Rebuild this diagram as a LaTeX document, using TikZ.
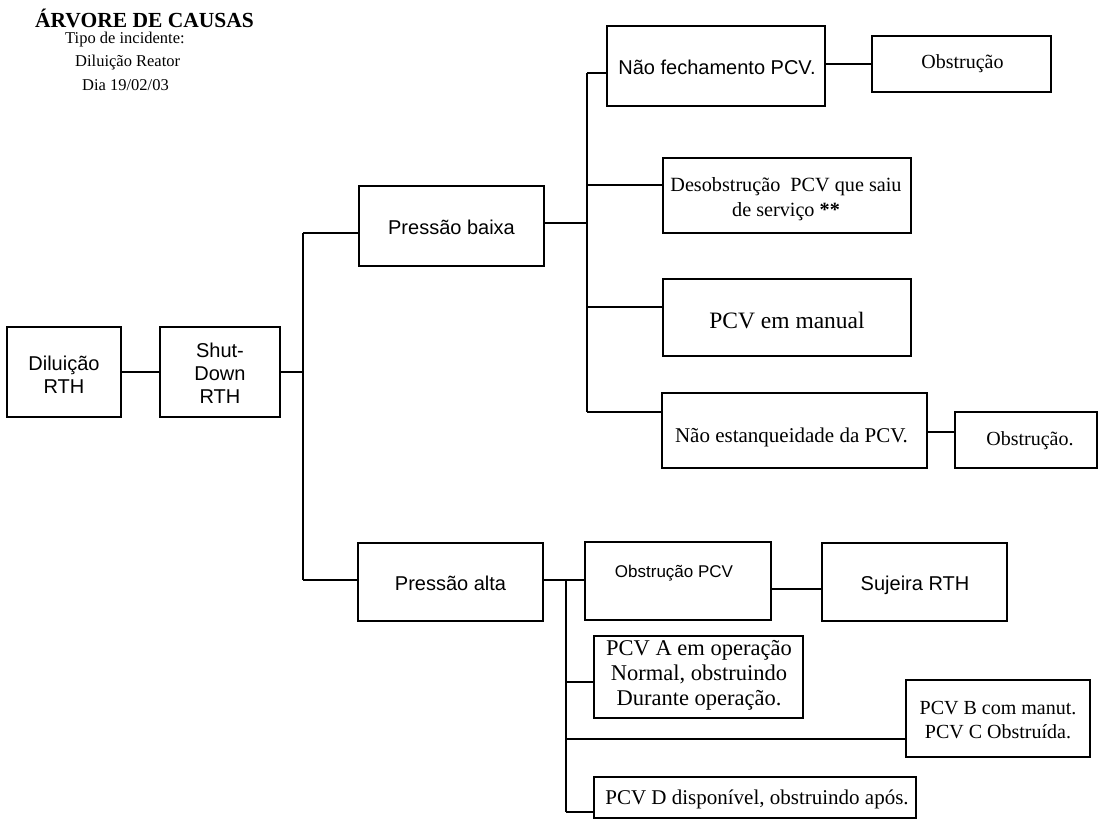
\documentclass[tikz,border=0pt]{standalone}
\usepackage{fontspec}
\setmainfont{Liberation Serif}
\newfontfamily\arialf{Liberation Sans}
\begin{document}
\begin{tikzpicture}[x=1pt,y=-1pt,
  box/.style={draw=black,line width=1.3pt,inner sep=0pt,outer sep=0pt,align=center},
  sansbox/.style={box,font=\arialf\fontsize{20}{23}\selectfont},
  serifbox/.style={box,font=\fontsize{20}{24}\selectfont},
  conn/.style={draw=black,line width=1.3pt},
  titletxt/.style={anchor=west,inner sep=0pt,font=\bfseries\fontsize{21.5}{24}\selectfont},
  subtxt/.style={anchor=west,inner sep=0pt,font=\fontsize{16.5}{19}\selectfont}]
\useasboundingbox[fill=white] (0,0) rectangle (1098,819);

% title
\node[titletxt] (title) at (35,18) {ÁRVORE DE CAUSAS};
\node[subtxt] (sub1) at (65,40) {Tipo de incidente:};
\node[subtxt] (sub2) at (75,63) {Diluição Reator};
\node[subtxt] (sub3) at (82,85) {Dia 19/02/03};

% boxes
\node[sansbox,minimum width=114,minimum height=90] (dil) at (64,372) {};
\node[font=\arialf\fontsize{20}{23}\selectfont,align=center,inner sep=0pt] (dilt) at (64,374.5) {Diluição\\RTH};
\node[sansbox,minimum width=120,minimum height=90] (shut) at (220,372) {};
\node[font=\arialf\fontsize{20}{23}\selectfont,align=center,inner sep=0pt] (shutt) at (220,373) {Shut-\\Down\\RTH};
\node[sansbox,minimum width=185,minimum height=80] (pb) at (451.5,226) {};
\node[font=\arialf\fontsize{20}{23}\selectfont,inner sep=0pt] (pbt) at (451.5,227) {Pressão baixa};
\node[sansbox,minimum width=185,minimum height=78] (pa) at (450.5,582) {};
\node[font=\arialf\fontsize{20}{23}\selectfont,inner sep=0pt] (pat) at (450.5,583) {Pressão alta};

\node[sansbox,minimum width=218,minimum height=80] (nf) at (716,66) {};
\node[font=\arialf\fontsize{20}{23}\selectfont,inner sep=0pt] (nft) at (717,67) {Não fechamento PCV.};
\node[serifbox,minimum width=179,minimum height=56] (ob1) at (961.5,64) {};
\node[font=\fontsize{20}{24}\selectfont,inner sep=0pt] (ob1t) at (962.5,64) {Obstrução};
\node[serifbox,minimum width=248,minimum height=75] (des) at (787,195.5) {};
\node[font=\fontsize{20.2}{25}\selectfont,align=center,inner sep=0pt] (dest) at (786,199) {Desobstrução\ \ PCV que saiu\\de serviço \textbf{**}};
\node[serifbox,minimum width=248,minimum height=77] (man) at (787,317.5) {};
\node[font=\fontsize{23.5}{26}\selectfont,inner sep=0pt] (mant) at (787,321) {PCV em manual};
\node[serifbox,minimum width=265,minimum height=75] (nes) at (794.5,430.5) {};
\node[font=\fontsize{21}{24}\selectfont,inner sep=0pt] (nest) at (791.5,437) {Não estanqueidade da PCV.};
\node[serifbox,minimum width=142,minimum height=56] (ob2) at (1026,440) {};
\node[font=\fontsize{20}{24}\selectfont,inner sep=0pt] (ob2t) at (1030,441) {Obstrução.};

\node[sansbox,minimum width=186,minimum height=78] (opcv) at (678,581) {};
\node[font=\arialf\fontsize{17}{20}\selectfont,inner sep=0pt] (opcvt) at (674,573) {Obstrução PCV};
\node[sansbox,minimum width=185,minimum height=78] (suj) at (914.5,582) {};
\node[font=\arialf\fontsize{20}{23}\selectfont,inner sep=0pt] (sujt) at (915,585) {Sujeira RTH};
\node[serifbox,minimum width=209,minimum height=82] (pA) at (698.5,677) {};
\node[font=\fontsize{22.5}{25}\selectfont,align=center,inner sep=0pt] (pAt) at (699,675) {PCV A em operação\\Normal, obstruindo\\Durante operação.};
\node[serifbox,minimum width=184,minimum height=77] (pB) at (998,718.5) {};
\node[font=\fontsize{20}{24}\selectfont,align=center,inner sep=0pt] (pBt) at (998,720) {PCV B com manut.\\PCV C Obstruída.};
\node[serifbox,minimum width=322,minimum height=41] (pD) at (755,797.5) {};
\node[font=\fontsize{21}{24}\selectfont,inner sep=0pt] (pDt) at (757,799) {PCV D disponível, obstruindo após.};

% junction coordinates
\coordinate (t1m) at (303,372);
\coordinate (t1a) at (303,233);
\coordinate (t1b) at (303,580);
\coordinate (t2a) at (587,73);
\coordinate (t2pb) at (587,223);
\coordinate (t2d) at (587,185);
\coordinate (t2m) at (587,307);
\coordinate (t2b) at (587,412);
\coordinate (c2) at (941,432);
\coordinate (t3a) at (566,580);
\coordinate (c3) at (796,589);
\coordinate (t3A) at (566,682);
\coordinate (t3B) at (566,739);
\coordinate (t3D) at (566,812);

% connectors
\draw[conn] (dil.east) -- (shut.west);
\draw[conn] (shut.east) -- (t1m);
\draw[conn] (t1a) -- (t1b);
\draw[conn] (t1a) -- (t1a -| pb.west);
\draw[conn] (t1b) -- (t1b -| pa.west);

\draw[conn] (pb.east |- t2pb) -- (t2pb);
\draw[conn] (t2a) -- (t2b);
\draw[conn] (t2a) -- (t2a -| nf.west);
\draw[conn] (t2d) -- (t2d -| des.west);
\draw[conn] (t2m) -- (t2m -| man.west);
\draw[conn] (t2b) -- (t2b -| nes.west);
\draw[conn] (nf.east |- ob1.west) -- (ob1.west);
\draw[conn] (nes.east |- c2) -- (ob2.west |- c2);

\draw[conn] (pa.east |- t3a) -- (opcv.west |- t3a);
\draw[conn] (t3a) -- (t3D);
\draw[conn] (opcv.east |- c3) -- (suj.west |- c3);
\draw[conn] (t3A) -- (t3A -| pA.west);
\draw[conn] (t3B) -- (t3B -| pB.west);
\draw[conn] (t3D) -- (t3D -| pD.west);
\end{tikzpicture}
\end{document}
